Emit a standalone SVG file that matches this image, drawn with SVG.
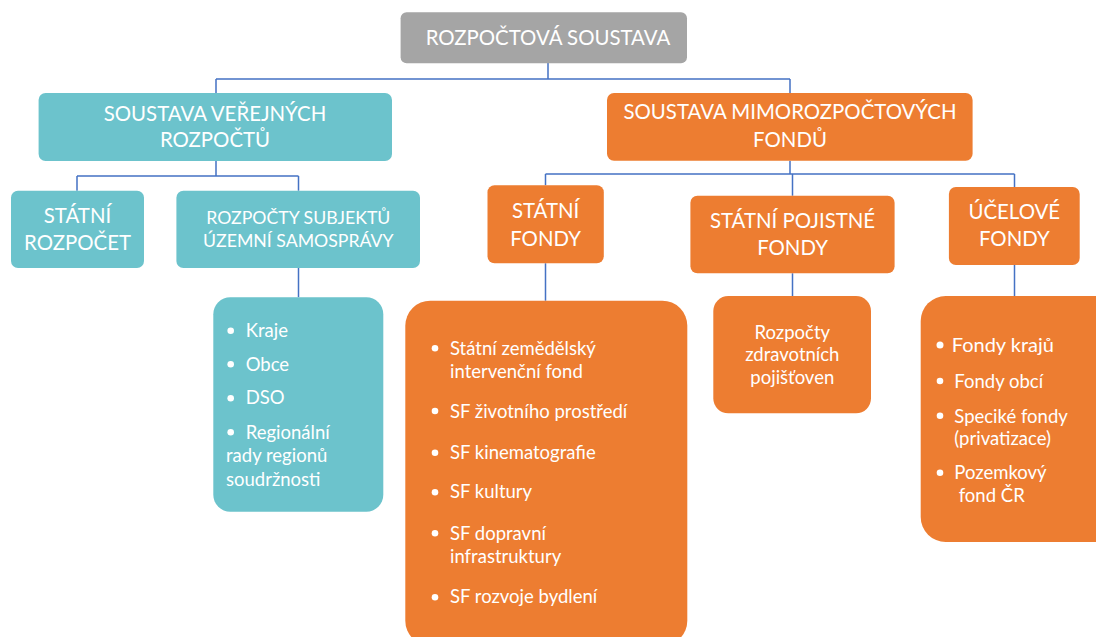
<svg xmlns="http://www.w3.org/2000/svg" width="1096" height="637" viewBox="0 0 1096 637">
<style>
.t{font-family:Lato,"Liberation Sans",sans-serif;fill:#fff}
.h{font-size:20.4px;text-anchor:middle}
.s{font-size:17.7px;text-anchor:middle}
.l{font-size:18.5px}
.gray{fill:#A5A5A5}
.teal{fill:#6CC3CC}
.orng{fill:#ED7D31}
.b{fill:#fff}
#connectors path{fill:none;stroke:#4472C4;stroke-width:1.5}
</style>
<rect width="1096" height="637" fill="#fff"/>
<g id="connectors">
<path d="M548,63 V79 M216,79 H790 M216,79 V93 M790,79 V93"/>
<path d="M216,161 V176 M77,176 H298.5 M77,176 V190.7 M298.5,176 V190.7"/>
<path d="M790,160.7 V174 M545.5,174 H1014.5 M545.5,174 V185.3 M792.5,174 V195.7 M1014.5,174 V187"/>
<path d="M298.5,268 V297.3 M545.5,263.3 V300.7 M792.5,273.3 V296 M1014.5,265 V296"/>
</g>
<g id="root">
<rect class="gray" x="400.6" y="12.3" width="286.4" height="51" rx="6"/>
<text class="t h" x="548" y="45">ROZPOČTOVÁ SOUSTAVA</text>
</g>
<g id="verejne">
<rect class="teal" x="38.6" y="93" width="353.4" height="68" rx="7"/>
<text class="t h" x="215" y="120.7">SOUSTAVA VEŘEJNÝCH</text>
<text class="t h" x="215" y="146.7">ROZPOČTŮ</text>
</g>
<g id="mimo">
<rect class="orng" x="607" y="93" width="365.6" height="67.7" rx="7"/>
<text class="t h" x="790" y="119.3">SOUSTAVA MIMOROZPOČTOVÝCH</text>
<text class="t h" x="790" y="146.7">FONDŮ</text>
</g>
<g id="statni-rozpocet">
<rect class="teal" x="11" y="190.7" width="133" height="77.3" rx="7"/>
<text class="t h" x="77.5" y="222.7">STÁTNÍ</text>
<text class="t h" x="77.5" y="250">ROZPOČET</text>
</g>
<g id="uzemni">
<rect class="teal" x="176.4" y="190.7" width="243.6" height="77.3" rx="7"/>
<text class="t s" x="298.3" y="224">ROZPOČTY SUBJEKTŮ</text>
<text class="t s" x="298.3" y="246.7">ÚZEMNÍ SAMOSPRÁVY</text>
</g>
<g id="statni-fondy">
<rect class="orng" x="487.5" y="185.3" width="116.3" height="78" rx="7"/>
<text class="t h" x="545.6" y="218">STÁTNÍ</text>
<text class="t h" x="545.6" y="245.6">FONDY</text>
</g>
<g id="pojistne">
<rect class="orng" x="690.4" y="195.7" width="204.2" height="77.6" rx="7"/>
<text class="t h" x="792.5" y="228.3">STÁTNÍ POJISTNÉ</text>
<text class="t h" x="792.5" y="255">FONDY</text>
</g>
<g id="ucelove">
<rect class="orng" x="948.9" y="187" width="130.8" height="78" rx="7"/>
<text class="t h" x="1014.3" y="219">ÚČELOVÉ</text>
<text class="t h" x="1014.3" y="245.7">FONDY</text>
</g>
<g id="uzemni-list">
<rect class="teal" x="213.3" y="297.3" width="170" height="214.4" rx="17"/>
<circle class="b" cx="230.7" cy="330.7" r="3.3"/>
<circle class="b" cx="230.7" cy="364.3" r="3.3"/>
<circle class="b" cx="230.7" cy="398.3" r="3.3"/>
<circle class="b" cx="230.7" cy="432.3" r="3.3"/>
<text class="t l" x="245.7" y="337.3">Kraje</text>
<text class="t l" x="245.7" y="370.7">Obce</text>
<text class="t l" x="245.7" y="404.3">DSO</text>
<text class="t l" x="245.7" y="439">Regionální</text>
<text class="t l" x="226" y="461.7">rady regionů</text>
<text class="t l" x="226" y="485.7">soudržnosti</text>
</g>
<g id="statni-fondy-list">
<rect class="orng" x="405.3" y="300.7" width="282" height="345" rx="25"/>
<circle class="b" cx="435" cy="348.3" r="3.3"/>
<circle class="b" cx="435" cy="411" r="3.3"/>
<circle class="b" cx="435" cy="452.7" r="3.3"/>
<circle class="b" cx="435" cy="492.3" r="3.3"/>
<circle class="b" cx="435" cy="533.3" r="3.3"/>
<circle class="b" cx="435" cy="597.3" r="3.3"/>
<text class="t l" x="450" y="355">Státní zemědělský</text>
<text class="t l" x="450" y="377.7">intervenční fond</text>
<text class="t l" x="450" y="417.7">SF životního prostředí</text>
<text class="t l" x="450" y="459">SF kinematografie</text>
<text class="t l" x="450" y="498.3">SF kultury</text>
<text class="t l" x="450" y="540">SF dopravní</text>
<text class="t l" x="450" y="562.7">infrastruktury</text>
<text class="t l" x="450" y="603.3">SF rozvoje bydlení</text>
</g>
<g id="pojistne-list">
<rect class="orng" x="713.3" y="296" width="157.7" height="117.3" rx="15"/>
<text class="t l" x="792.3" y="339.3" text-anchor="middle">Rozpočty</text>
<text class="t l" x="792.3" y="361" text-anchor="middle">zdravotních</text>
<text class="t l" x="792.3" y="383.5" text-anchor="middle">pojišťoven</text>
</g>
<g id="ucelove-list">
<rect class="orng" x="920.7" y="296" width="200" height="246" rx="25"/>
<circle class="b" cx="940" cy="345" r="3.5"/>
<circle class="b" cx="940" cy="381" r="3.3"/>
<circle class="b" cx="940" cy="415.7" r="3.3"/>
<circle class="b" cx="940" cy="472.7" r="3.3"/>
<text class="t" x="951.7" y="351.7" font-size="20px">Fondy krajů</text>
<text class="t l" x="954.3" y="387.7">Fondy obcí</text>
<text class="t l" x="954.3" y="422.7">Speciké fondy</text>
<text class="t l" x="954.3" y="445">(privatizace)</text>
<text class="t l" x="954.3" y="479.3">Pozemkový</text>
<text class="t l" x="958.7" y="501.7">fond ČR</text>
</g>
</svg>
